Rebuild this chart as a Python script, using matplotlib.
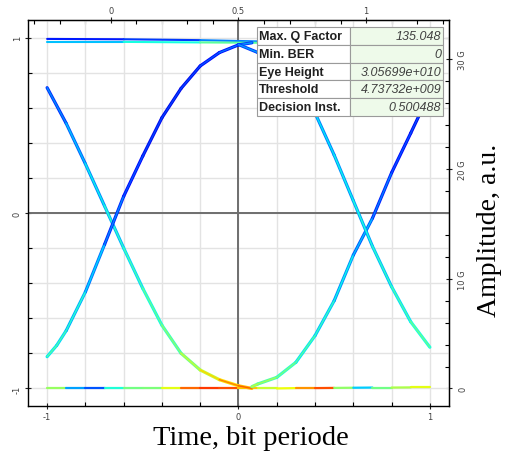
import numpy as np
import matplotlib.pyplot as plt
from matplotlib.collections import LineCollection
from matplotlib.table import Table

# eye traces: time [bit period], amplitude [a.u.], colour level (jet, 0..1)
fall_l_t = [-1.0, -0.9, -0.8, -0.7, -0.6, -0.5, -0.4, -0.3, -0.2, -0.1, 0.0, 0.07]
fall_l_v = [0.714, 0.51, 0.28, 0.04, -0.2, -0.43, -0.64, -0.80, -0.895, -0.95, -0.985, -1.0]
fall_l_c = [0.24, 0.29, 0.34, 0.38, 0.42, 0.45, 0.49, 0.54, 0.63, 0.74, 0.80, 0.82]

rise_l_t = [-1.0, -0.95, -0.9, -0.8, -0.7, -0.6, -0.5, -0.4, -0.3, -0.2, -0.1, 0.0, 0.07]
rise_l_v = [-0.819, -0.755, -0.67, -0.45, -0.18, 0.095, 0.325, 0.543, 0.71, 0.838, 0.914, 0.958, 0.97]
rise_l_c = [0.46, 0.44, 0.42, 0.37, 0.30, 0.22, 0.20, 0.19, 0.19, 0.20, 0.22, 0.25, 0.30]

rise_r_t = [0.07, 0.1, 0.2, 0.3, 0.4, 0.5, 0.6, 0.7, 0.8, 0.9, 0.95, 1.0]
rise_r_v = [-0.99, -0.975, -0.937, -0.851, -0.699, -0.50, -0.24, -0.03, 0.229, 0.455, 0.57, 0.67]
rise_r_c = [0.60, 0.57, 0.52, 0.47, 0.43, 0.39, 0.34, 0.28, 0.22, 0.20, 0.20, 0.20]

fall_r_t = [0.0, 0.1, 0.2, 0.3, 0.4, 0.5, 0.6, 0.7, 0.8, 0.9, 1.0]
fall_r_v = [0.96, 0.915, 0.84, 0.73, 0.57, 0.33, 0.07, -0.19, -0.42, -0.62, -0.765]
fall_r_c = [0.28, 0.28, 0.30, 0.32, 0.34, 0.36, 0.37, 0.39, 0.42, 0.46, 0.49]

# "one" rail (two strands) and "zero" rail
top_t = [-1.0, -0.6, -0.2, 0.1, 0.5, 1.0]
top_hi_v = [0.992, 0.99, 0.985, 0.978, 0.978, 0.98]
top_hi_c = [0.14, 0.16, 0.20, 0.30, 0.30, 0.30]
top_lo_v = [0.975, 0.975, 0.972, 0.97, 0.97, 0.97]
top_lo_c = [0.30, 0.33, 0.42, 0.50, 0.40, 0.40]

bot_t = [-1.0, -0.9, -0.8, -0.7, -0.6, -0.5, -0.4, -0.3, -0.2, -0.1, 0.0,
         0.1, 0.2, 0.3, 0.4, 0.5, 0.6, 0.7, 0.8, 0.9, 1.0]
bot_v = [-1.0, -1.0, -1.0, -1.0, -1.0, -1.0, -1.0, -1.0, -1.0, -1.0, -1.0,
         -1.0, -1.0, -0.998, -0.998, -0.997, -0.996, -0.995, -0.995, -0.994, -0.994]
bot_c = [0.62, 0.45, 0.12, 0.30, 0.48, 0.50, 0.50, 0.75, 0.85, 0.85, 0.80,
         0.60, 0.58, 0.70, 0.80, 0.85, 0.20, 0.45, 0.52, 0.60, 0.65]

stat_names = ['Max. Q Factor', 'Min. BER', 'Eye Height', 'Threshold', 'Decision Inst.']
stat_values = ['135.048', '0', '3.05699e+010', '4.73732e+009', '0.500488']


def trace(ax, t, v, c, lw, shift=0.0):
    pts = np.column_stack([t, v])
    segs = np.stack([pts[:-1], pts[1:]], axis=1)
    lev = (np.array(c[:-1]) + np.array(c[1:])) / 2 + shift
    lc = LineCollection(segs, cmap='jet', norm=plt.Normalize(0, 1), linewidths=lw)
    lc.set_capstyle('round')
    lc.set_joinstyle('round')
    lc.set_array(lev)
    lc.set_zorder(3)
    ax.add_collection(lc)


fig = plt.figure(figsize=(5.05, 4.52), dpi=100)
ax = fig.add_axes([0.0554, 0.0996, 0.8337, 0.854])
ax.set_xlim(-1.1, 1.1)
ax.set_ylim(-1.1, 1.1)

ax.set_xticks([-1, 0, 1])
ax.set_xticks(np.arange(-1.0, 1.01, 0.2), minor=True)
ax.set_xticklabels(['-1', '0', '1'])
ax.set_yticks([-1, 0, 1])
ax.set_yticks(np.arange(-1.0, 1.01, 0.2), minor=True)
ax.set_yticklabels(['-1', '0', '1'], rotation=90, va='center')
ax.grid(which='both', color='#e3e3e3', lw=1.0, zorder=0)
ax.set_axisbelow(True)
ax.axhline(0, color='#6e6e6e', lw=1.4, zorder=1)
ax.axvline(0, color='#6e6e6e', lw=1.4, zorder=1)

for sp in ax.spines.values():
    sp.set_color('black')
    sp.set_linewidth(1.0)

tick_kw = dict(labelsize=6, labelcolor='#404040', color='#202020')
ax.tick_params(which='major', direction='inout', length=5, width=0.8, pad=2, **tick_kw)
ax.tick_params(which='minor', direction='in', length=3, width=0.8)
ax.tick_params(axis='x', which='major', pad=1.5)

top = ax.secondary_xaxis('top', functions=(lambda x: (x + 2 / 3) * 0.75,
                                           lambda u: u / 0.75 - 2 / 3))
top.set_xticks([0, 0.5, 1])
top.set_xticklabels(['0', '0.5', '1'])
top.set_xticks(np.arange(-0.3, 1.31, 0.1), minor=True)
top.tick_params(which='major', direction='inout', length=5, width=0.8, pad=1, **tick_kw)
top.tick_params(which='minor', direction='in', length=3, width=0.8)

right = ax.secondary_yaxis('right', functions=(lambda v: (v + 1) * 16,
                                               lambda g: g / 16 - 1))
right.set_yticks([0, 10, 20, 30])
right.set_yticklabels(['0', '10 G', '20 G', '30 G'], rotation=90, va='center')
right.set_yticks(np.arange(0, 33.5, 2), minor=True)
right.tick_params(which='major', direction='inout', length=5, width=0.8, pad=4, **tick_kw)
right.tick_params(which='minor', direction='in', length=3, width=0.8)

# rails: thin strands
for t, v, c in [(top_t, top_hi_v, top_hi_c), (top_t, top_lo_v, top_lo_c)]:
    trace(ax, t, v, c, 1.5)
trace(ax, bot_t, bot_v, bot_c, 1.6)

# transitions: darker outer pass, then the core
for t, v, c in [(fall_l_t, fall_l_v, fall_l_c), (rise_l_t, rise_l_v, rise_l_c),
                (rise_r_t, rise_r_v, rise_r_c), (fall_r_t, fall_r_v, fall_r_c)]:
    trace(ax, t, v, c, 2.3, shift=-0.1)
    trace(ax, t, v, c, 1.0)

# statistics box
tab = Table(ax, bbox=[0.544, 0.751, 0.442, 0.231])
n = len(stat_names)
for i, (name, val) in enumerate(zip(stat_names, stat_values)):
    c0 = tab.add_cell(i, 0, width=0.5, height=1 / n, text=name, loc='left', facecolor='white')
    c1 = tab.add_cell(i, 1, width=0.5, height=1 / n, text=val, loc='right', facecolor='#eefaea')
    for cell in (c0, c1):
        cell.PAD = 0.02
        cell.set_edgecolor('#9a9a9a')
        cell.set_linewidth(0.8)
        cell.get_text().set_fontsize(9)
        cell.get_text().set_family('Liberation Sans')
    c0.get_text().set_weight('bold')
    c0.get_text().set_color('#202020')
    c1.get_text().set_style('italic')
    c1.get_text().set_color('#404040')
tab.auto_set_font_size(False)
tab.set_zorder(6)
ax.add_table(tab)

fig.text(251 / 505, 1 - 445.5 / 452, 'Time, bit periode', ha='center', va='baseline',
         family='Liberation Serif', fontsize=20.5)
fig.text(490 / 505, 1 - 230 / 452, 'Amplitude, a.u.', ha='center', va='center',
         rotation=90, family='Liberation Serif', fontsize=20)

fig.savefig('out.png', dpi=100)
